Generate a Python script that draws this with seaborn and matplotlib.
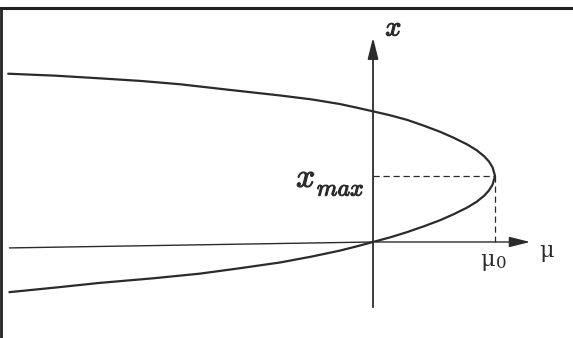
import matplotlib
matplotlib.use('Agg')
import matplotlib.pyplot as plt
import matplotlib.patheffects as pe
import seaborn as sns
import pandas as pd

# curve points (mu, x), from upper-left round the nose to lower-left
mu_vals = [-2.99, -2.60, -2.24, -1.90, -1.58, -1.20, -0.76, -0.50, -0.27, -0.12, 0.00,
           0.14, 0.28, 0.42, 0.55, 0.66, 0.77, 0.85, 0.91, 0.95, 0.98, 1.00,
           0.98, 0.95, 0.91, 0.85, 0.77, 0.66, 0.55, 0.42, 0.28, 0.14, 0.00,
           -0.12, -0.27, -0.50, -0.76, -1.10, -1.42, -1.80, -2.24, -2.60, -2.98]
x_vals = [2.55, 2.52, 2.48, 2.44, 2.39, 2.31, 2.22, 2.16, 2.09, 2.03, 1.98,
          1.92, 1.85, 1.76, 1.67, 1.58, 1.48, 1.39, 1.30, 1.22, 1.13, 1.00,
          0.87, 0.78, 0.70, 0.61, 0.52, 0.42, 0.33, 0.24, 0.15, 0.07, 0.00,
          -0.06, -0.13, -0.22, -0.31, -0.40, -0.48, -0.55, -0.62, -0.69, -0.76]

mu0 = 1.0
x_max = 1.0

# horizontal axis is a bit tilted at the left end in the scan
axis_mu = [-2.98, 0.0, 1.31]
axis_x = [-0.09, 0.0, 0.0]

curve = pd.DataFrame({'mu': mu_vals, 'x': x_vals})

sns.set_style('white')
plt.rcParams['font.family'] = ['DejaVu Serif', 'DejaVu Sans']
plt.rcParams['mathtext.fontset'] = 'cm'

fig = plt.figure(figsize=(5.73, 3.38), dpi=100)
ax = fig.add_axes([0, 0, 1, 1])
ax.set_xlim(-3.057, 1.639)
ax.set_ylim(-1.455, 3.667)
ax.axis('off')

ink = '#2b2b2b'
thick = [pe.withStroke(linewidth=0.8, foreground=ink)]

sns.lineplot(data=curve, x='mu', y='x', sort=False, estimator=None,
             color=ink, lw=1.6, ax=ax)

# axes with arrows
ax.plot(axis_mu[:2], axis_x[:2], color=ink, lw=1.0)
ax.annotate('', xy=(axis_mu[2], axis_x[2]), xytext=(axis_mu[1], axis_x[1]),
            arrowprops=dict(arrowstyle='-|>,head_length=0.8,head_width=0.2',
                            color=ink, lw=1.0, mutation_scale=16))
ax.annotate('', xy=(0, 3.14), xytext=(0, -1.03),
            arrowprops=dict(arrowstyle='-|>,head_length=0.8,head_width=0.2',
                            color=ink, lw=1.3, mutation_scale=16))

# dashed guides
ax.plot([0, mu0], [x_max, x_max], color=ink, lw=0.9, ls=(0, (5, 3)))
ax.plot([mu0, mu0], [x_max, 0], color=ink, lw=0.9, ls=(0, (5, 3)))

# labels
ax.text(0.17, 3.24, r'$x$', fontsize=20, color=ink,
        ha='center', va='center', path_effects=thick)
ax.text(-0.55, 0.97, r'$x$', fontsize=24, color=ink,
        ha='center', va='center', path_effects=thick)
ax.text(-0.46, 0.80, r'$max$', fontsize=17, color=ink,
        ha='left', va='center', path_effects=thick)
ax.text(0.94, -0.27, 'μ', fontsize=16, color=ink, ha='center', va='center')
ax.text(1.05, -0.32, '0', fontsize=12, color=ink, ha='center', va='center')
ax.text(1.42, -0.13, 'μ', fontsize=16, color=ink, ha='center', va='center')

# scan frame: top and left edges
ax.plot([-3.057, 1.639], [3.545, 3.545], color='#222222', lw=2.2, clip_on=False)
ax.plot([-3.045, -3.045], [-1.455, 3.545], color='#222222', lw=2.0, clip_on=False)

fig.savefig('out.png', dpi=100)
